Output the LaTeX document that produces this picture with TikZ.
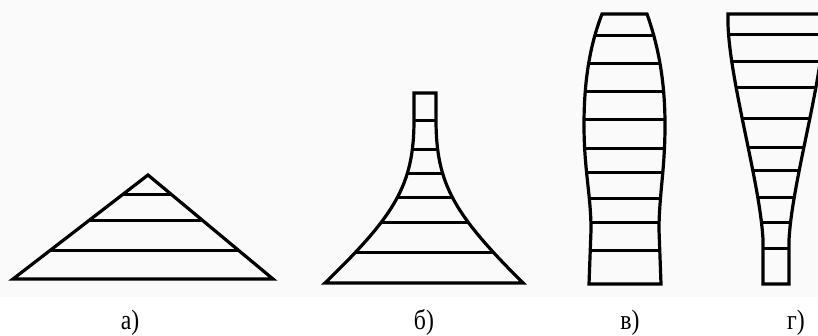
\documentclass[tikz,border=0pt]{standalone}
\usepackage{fontspec}
\setmainfont{Liberation Serif}
\definecolor{bgband}{RGB}{250,250,250}
\begin{document}
\begin{tikzpicture}[x=1pt,y=-1pt,
  outline/.style={line width=3.2pt,line join=miter,line cap=butt},
  rung/.style={line width=3pt},
  caption/.style={anchor=base,font=\fontsize{28}{30}\selectfont,inner sep=0pt}]
\useasboundingbox (0,0) rectangle (818,335);
\fill[bgband] (0,0) rectangle (818,297);
% ---------- a) triangle ----------
\def\shapeA{(13,279) -- (148,175) -- (273,279) -- cycle}
\begin{scope}
  \clip \shapeA;
  \foreach \y in {194,220,250} \draw[rung] (0,\y) -- (300,\y);
\end{scope}
\draw[outline] \shapeA;
% ---------- b) ----------
\def\shapeB{(325,283) -- (523,283) .. controls (455,215) and (436,185) .. (436,120) -- (436,93) -- (414,93) -- (414,120) .. controls (414,185) and (395,215) .. (325,283) -- cycle}
\begin{scope}
  \clip \shapeB;
  \foreach \y in {120,149,173,197,222,252} \draw[rung] (300,\y) -- (550,\y);
\end{scope}
\draw[outline] \shapeB;
% ---------- v) ----------
\def\shapeV{(589,284) -- (591,230) .. controls (591,195) and (584,170) .. (584,125) .. controls (584,80) and (590,45) .. (602,14) -- (647,14) .. controls (658,45) and (665,80) .. (665,125) .. controls (665,170) and (659,195) .. (659,230) -- (661,284) -- cycle}
\begin{scope}
  \clip \shapeV;
  \foreach \y in {35,63,91,119,148,172,198,222,250} \draw[rung] (560,\y) -- (690,\y);
\end{scope}
\draw[outline] \shapeV;
% ---------- g) (cut by the right edge) ----------
\def\shapeG{(763,284) -- (763,240) .. controls (760,180) and (726,70) .. (728,14) -- (824,14) .. controls (826,70) and (792,180) .. (789,240) -- (789,284) -- cycle}
\begin{scope}
  \clip (690,0) rectangle (818,335);
  \begin{scope}
    \clip \shapeG;
    \foreach \y in {34,61,87,118,147,170,197,222,248} \draw[rung] (700,\y) -- (840,\y);
  \end{scope}
  \draw[outline] \shapeG;
\end{scope}
% ---------- captions ----------
\node[caption] (la) at (130,329) {\scalebox{0.85}[1]{а)}};
\node[caption] (lb) at (424,329) {\scalebox{0.85}[1]{б)}};
\node[caption] (lv) at (630,329) {\scalebox{0.85}[1]{в)}};
\node[caption] (lg) at (796,329) {\scalebox{0.85}[1]{г)}};
\end{tikzpicture}
\end{document}
